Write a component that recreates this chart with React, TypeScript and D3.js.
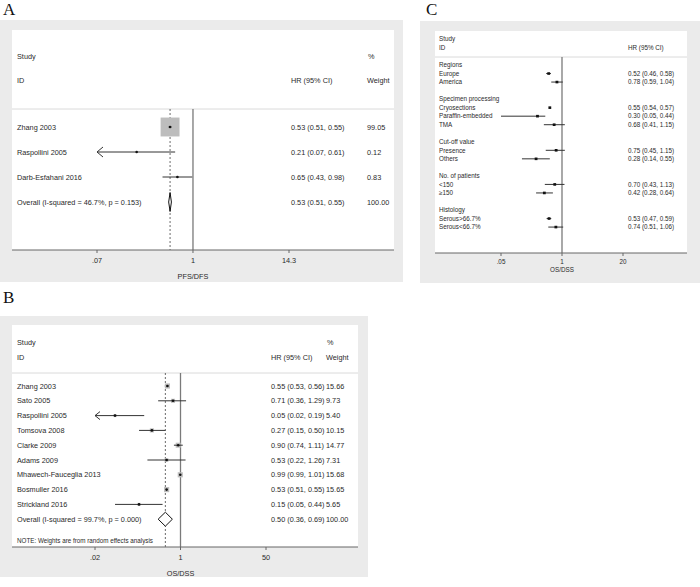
import * as d3 from "d3";

const FONT = "'Liberation Sans', Arial, Helvetica, sans-serif";
const INK = "#2a2a2a";

// Panel A: PFS/DFS
const studiesA = ["Zhang 2003", "Raspollini 2005", "Darb-Esfahani 2016"];
const hrA = [0.53, 0.21, 0.65];
const lowA = [0.51, 0.07, 0.43];
const highA = [0.55, 0.61, 0.98];
const weightA = [99.05, 0.12, 0.83];
const overallA = [0.53, 0.51, 0.55];
const overallLabelA = "Overall  (I-squared = 46.7%, p = 0.153)";
const ticksA = [0.07, 1, 14.3];
const tickLabelsA = [".07", "1", "14.3"];

// Panel B: OS/DSS
const studiesB = [
  "Zhang 2003",
  "Sato 2005",
  "Raspollini 2005",
  "Tomsova 2008",
  "Clarke 2009",
  "Adams 2009",
  "Mhawech-Fauceglia 2013",
  "Bosmuller 2016",
  "Strickland 2016",
];
const hrB = [0.55, 0.71, 0.05, 0.27, 0.9, 0.53, 0.99, 0.53, 0.15];
const lowB = [0.53, 0.36, 0.02, 0.15, 0.74, 0.22, 0.99, 0.51, 0.05];
const highB = [0.56, 1.29, 0.19, 0.5, 1.11, 1.26, 1.01, 0.55, 0.44];
const weightB = [15.66, 9.73, 5.4, 10.15, 14.77, 7.31, 15.68, 15.65, 5.65];
const overallB = [0.5, 0.36, 0.69];
const overallLabelB = "Overall  (I-squared = 99.7%, p = 0.000)";
const ticksB = [0.02, 1, 50];
const tickLabelsB = [".02", "1", "50"];

// Panel C: subgroups, OS/DSS
const groupsC = ["Regions", "Specimen processing", "Cut-off value", "No. of patients", "Histology"];
const subgroupsC = [
  ["Europe", "America"],
  ["Cryosections", "Paraffin-embedded", "TMA"],
  ["Presence", "Others"],
  ["<150", "\u2265150"],
  ["Serous>66.7%", "Serous<66.7%"],
];
const hrC = [[0.52, 0.78], [0.55, 0.3, 0.68], [0.75, 0.28], [0.7, 0.42], [0.53, 0.74]];
const lowC = [[0.46, 0.59], [0.54, 0.05, 0.41], [0.45, 0.14], [0.43, 0.28], [0.47, 0.51]];
const highC = [[0.58, 1.04], [0.57, 0.44, 1.15], [1.15, 0.55], [1.13, 0.64], [0.59, 1.06]];
const ticksC = [0.05, 1, 20];
const tickLabelsC = [".05", "1", "20"];

type Row = { label: string; hr?: number; low?: number; high?: number; weight?: number };

const fmt = (v: number) => v.toFixed(2);

function Forest(p: any) {
  const x = d3
    .scaleLog()
    .domain([p.ticks[0], p.ticks[p.ticks.length - 1]])
    .range(p.range);
  const [dMin, dMax] = x.domain();
  const fs = p.fontSize;
  const ty = (y: number) => y + fs * 0.36;
  const rows: Row[] = p.rows;
  const rowY = (i: number) => p.rowY0 + i * p.rowStep;
  const overallY = rowY(rows.length);

  return (
    <g fontFamily={FONT} fill={INK}>
      <rect x={p.bg[0]} y={p.bg[1]} width={p.bg[2]} height={p.bg[3]} fill="#ebebeb" />
      <rect x={p.x0} y={p.top} width={p.x1 - p.x0} height={p.axisY - p.top} fill="#fff" />
      <line x1={p.x0} x2={p.x1} y1={p.sepY} y2={p.sepY} stroke="#dadada" strokeWidth={1} />

      {/* header */}
      <text x={p.labelX} y={ty(p.headY[0])} fontSize={fs}>Study</text>
      <text x={p.labelX} y={ty(p.headY[1])} fontSize={fs}>ID</text>
      <text x={p.hrX} y={ty(p.headY[1])} fontSize={fs}>HR (95% CI)</text>
      {p.wtX && (
        <>
          <text x={p.wtX + 1} y={ty(p.headY[0])} fontSize={fs}>%</text>
          <text x={p.wtX} y={ty(p.headY[1])} fontSize={fs}>Weight</text>
        </>
      )}

      {/* reference lines */}
      <line x1={x(1)} x2={x(1)} y1={p.sepY} y2={p.axisY} stroke="#7a7a7a" strokeWidth={1.3} />
      {p.overall && (
        <line
          x1={x(p.overall[0])}
          x2={x(p.overall[0])}
          y1={p.sepY}
          y2={p.axisY}
          stroke="#444"
          strokeWidth={0.8}
          strokeDasharray="2,2"
        />
      )}

      {rows.map((r, i) => {
        const y = rowY(i);
        if (r.hr === undefined) {
          return (
            <text key={i} x={p.labelX} y={ty(y)} fontSize={fs}>
              {r.label}
            </text>
          );
        }
        const clipped = r.low! <= dMin * 1.001 && p.arrow;
        const lx = x(Math.max(r.low!, dMin));
        const hx = x(Math.min(r.high!, dMax));
        const side = r.weight !== undefined && p.boxK ? p.boxK * Math.sqrt(r.weight) : 0;
        const cx = x(r.hr);
        return (
          <g key={i}>
            <text x={p.labelX} y={ty(y)} fontSize={fs}>{r.label}</text>
            {side > 1 && (
              <rect x={cx - side / 2} y={y - side / 2} width={side} height={side} fill="#bdbdbd" />
            )}
            <line x1={lx} x2={hx} y1={y} y2={y} stroke="#333" strokeWidth={1} />
            {clipped && (
              <path
                d={`M${lx + p.arrowSize[0]},${y - p.arrowSize[1]}L${lx},${y}L${lx + p.arrowSize[0]},${y + p.arrowSize[1]}`}
                fill="none"
                stroke="#333"
                strokeWidth={1}
              />
            )}
            {p.dotSquare ? (
              <rect x={cx - 1.4} y={y - 1.3} width={2.8} height={2.6} fill="#111" />
            ) : (
              <circle cx={cx} cy={y} r={1.3} fill="#111" />
            )}
            <text x={p.hrX} y={ty(y)} fontSize={fs}>
              {`${fmt(r.hr)} (${fmt(r.low!)}, ${fmt(r.high!)})`}
            </text>
            {p.wtX && r.weight !== undefined && (
              <text x={p.wtX} y={ty(y)} fontSize={fs}>{fmt(r.weight)}</text>
            )}
          </g>
        );
      })}

      {p.overall && (
        <g>
          <text x={p.labelX} y={ty(overallY)} fontSize={fs}>{p.overallLabel}</text>
          <path
            d={`M${x(p.overall[1])},${overallY}L${x(p.overall[0])},${overallY - p.diamondH}L${x(
              p.overall[2]
            )},${overallY}L${x(p.overall[0])},${overallY + p.diamondH}Z`}
            fill="#fff"
            stroke="#111"
            strokeWidth={1}
          />
          <text x={p.hrX} y={ty(overallY)} fontSize={fs}>
            {`${fmt(p.overall[0])} (${fmt(p.overall[1])}, ${fmt(p.overall[2])})`}
          </text>
          {p.wtX && (
            <text x={p.wtX} y={ty(overallY)} fontSize={fs}>100.00</text>
          )}
        </g>
      )}

      {p.note && (
        <text x={p.labelX} y={ty(p.noteY)} fontSize={fs * 0.86}>{p.note}</text>
      )}

      {/* axis */}
      <line x1={p.x0} x2={p.x1} y1={p.axisY} y2={p.axisY} stroke="#666" strokeWidth={1} />
      {p.ticks.map((t: number, i: number) => (
        <g key={i} transform={`translate(${x(t)},${p.axisY})`}>
          <line y1={0} y2={3} stroke="#666" strokeWidth={1} />
          <text textAnchor="middle" y={ty(p.tickLabelY - p.axisY)} fontSize={fs}>
            {p.tickLabels[i]}
          </text>
        </g>
      ))}
      <text textAnchor="middle" x={x(1)} y={ty(p.xLabelY)} fontSize={fs}>
        {p.xLabel}
      </text>
    </g>
  );
}

export default function App() {
  const rowsA: Row[] = studiesA.map((s, i) => ({
    label: s,
    hr: hrA[i],
    low: lowA[i],
    high: highA[i],
    weight: weightA[i],
  }));
  const rowsB: Row[] = studiesB.map((s, i) => ({
    label: s,
    hr: hrB[i],
    low: lowB[i],
    high: highB[i],
    weight: weightB[i],
  }));
  const rowsC: Row[] = [];
  groupsC.forEach((g, gi) => {
    if (gi > 0) rowsC.push({ label: "" });
    rowsC.push({ label: g });
    subgroupsC[gi].forEach((s, si) =>
      rowsC.push({ label: s, hr: hrC[gi][si], low: lowC[gi][si], high: highC[gi][si] })
    );
  });

  return (
    <svg width={700} height={587} style={{ position: "absolute", left: 0, top: 0 }}>
      <rect width={700} height={587} fill="#fff" />
      <g fontFamily="'Liberation Serif', 'Times New Roman', serif" fontSize={17} fill="#111">
        <text x={3} y={15}>A</text>
        <text x={3} y={303}>B</text>
        <text x={426} y={15}>C</text>
      </g>

      <Forest
        bg={[0, 20, 403, 262]}
        x0={12}
        x1={394}
        top={30}
        axisY={250}
        sepY={109}
        labelX={17}
        headY={[56, 80]}
        hrX={291}
        wtX={367}
        rowY0={127}
        rowStep={25}
        rows={rowsA}
        overall={overallA}
        overallLabel={overallLabelA}
        ticks={ticksA}
        tickLabels={tickLabelsA}
        range={[97, 289]}
        tickLabelY={260}
        xLabel="PFS/DFS"
        xLabelY={276}
        fontSize={7.3}
        boxK={1.9}
        diamondH={9.5}
        arrow
        arrowSize={[6, 5]}
      />

      <Forest
        bg={[0, 316, 368, 261]}
        x0={12}
        x1={358}
        top={325}
        axisY={547}
        sepY={373}
        labelX={17}
        headY={[342, 357]}
        hrX={271}
        wtX={326}
        rowY0={386}
        rowStep={14.8}
        rows={rowsB}
        overall={overallB}
        overallLabel={overallLabelB}
        ticks={ticksB}
        tickLabels={tickLabelsB}
        range={[95, 266]}
        tickLabelY={557}
        xLabel="OS/DSS"
        xLabelY={573}
        fontSize={7.3}
        boxK={1.3}
        diamondH={7}
        arrow
        arrowSize={[5, 4]}
        note="NOTE: Weights are from random effects analysis"
        noteY={540}
      />

      <Forest
        bg={[420, 21, 280, 262]}
        x0={435}
        x1={687}
        top={31}
        axisY={253}
        sepY={57}
        labelX={439}
        headY={[39, 48]}
        hrX={628}
        rowY0={65}
        rowStep={8.53}
        rows={rowsC}
        ticks={ticksC}
        tickLabels={tickLabelsC}
        range={[501, 623]}
        tickLabelY={262}
        xLabel="OS/DSS"
        xLabelY={270}
        fontSize={6.3}
        dotSquare
      />
    </svg>
  );
}
